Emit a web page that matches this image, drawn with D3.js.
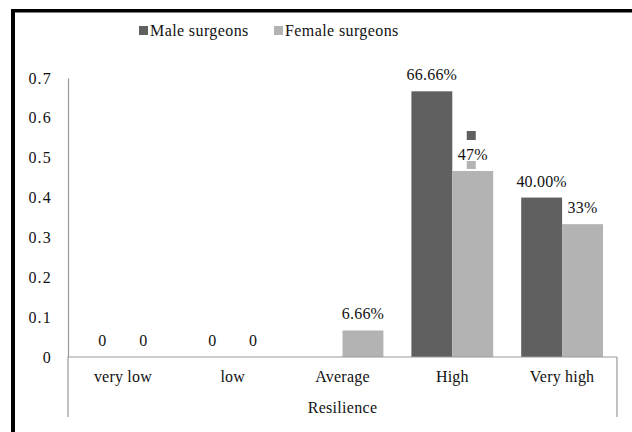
<!DOCTYPE html>
<html><head><meta charset="utf-8">
<script src="https://cdn.jsdelivr.net/npm/d3@7/dist/d3.min.js"></script>
<style>
html,body{margin:0;padding:0;background:#fff;}
</style></head>
<body><svg id="chart" width="632" height="432"></svg>
<script>
const categories = ["very low", "low", "Average", "High", "Very high"];
const seriesNames = ["Male surgeons", "Female surgeons"];
const maleValues = [0, 0, 0, 0.6666, 0.40];
const femaleValues = [0, 0, 0.0666, 0.4667, 0.3333];
const maleLabels = ["0", "0", "", "66.66%", "40.00%"];
const femaleLabels = ["0", "0", "6.66%", "47%", "33%"];
const yTicks = [0, 0.1, 0.2, 0.3, 0.4, 0.5, 0.6, 0.7];
const xTitle = "Resilience";

(function () {
const FONT = "'Liberation Serif', 'DejaVu Serif', serif";
const colors = ["#606060", "#b3b3b3"];
const svg = d3.select("#chart");

// frame (black edges left and top)
svg.append("rect").attr("x", 11).attr("y", 9).attr("width", 4).attr("height", 432).attr("fill", "#000");
svg.append("rect").attr("x", 11).attr("y", 9).attr("width", 632).attr("height", 3.5).attr("fill", "#000");

const pLeft = 68, pRight = 617, pTop = 78, pBottom = 357;
const x0 = d3.scaleBand().domain(categories).range([pLeft, pRight]).padding(0);
const x1 = d3.scaleBand().domain(seriesNames).range([14, x0.bandwidth() - 14]).padding(0);
const y = d3.scaleLinear().domain([0, 0.7]).range([pBottom, pTop]);

const series = [
  {name: seriesNames[0], values: maleValues, labels: maleLabels, color: colors[0]},
  {name: seriesNames[1], values: femaleValues, labels: femaleLabels, color: colors[1]}
];

function styleText(sel, ls) {
  sel.style("font-family", FONT).style("font-size", "16px")
    .style("letter-spacing", ls + "px").style("fill", "#111");
}

// y axis
const yAxis = d3.axisLeft(y).tickValues(yTicks).tickSize(0).tickPadding(16)
  .tickFormat(d => d === 0 ? "0" : d3.format(".1f")(d));
const gy = svg.append("g").attr("transform", `translate(${pLeft},0)`).call(yAxis);
gy.attr("font-family", null);
gy.select(".domain").attr("stroke", "#999").attr("stroke-width", 1.2);
styleText(gy.selectAll("text"), 1.2);

// bars
series.forEach(s => {
  svg.append("g").selectAll("rect").data(categories).join("rect")
    .attr("x", c => x0(c) + x1(s.name))
    .attr("width", x1.bandwidth())
    .attr("y", (c, i) => y(s.values[i]))
    .attr("height", (c, i) => pBottom - y(s.values[i]))
    .attr("fill", s.color);
});

// x axis
const xAxis = d3.axisBottom(x0).tickSize(0).tickPadding(14);
const gx = svg.append("g").attr("transform", `translate(0,${pBottom})`).call(xAxis);
gx.attr("font-family", null);
gx.select(".domain").remove();
styleText(gx.selectAll("text"), 0.2);
svg.append("line").attr("x1", pLeft).attr("x2", pRight).attr("y1", pBottom).attr("y2", pBottom)
  .attr("stroke", "#999").attr("stroke-width", 1.2);
[pLeft, pRight].forEach(xx => svg.append("line").attr("x1", xx).attr("x2", xx)
  .attr("y1", pBottom).attr("y2", 417).attr("stroke", "#999").attr("stroke-width", 1.2));

styleText(svg.append("text").attr("x", (pLeft + pRight) / 2).attr("y", 413).attr("text-anchor", "middle")
  .text(xTitle), 0.3);

// data labels
series.forEach(s => {
  styleText(svg.append("g").selectAll("text").data(categories).join("text")
    .attr("x", c => x0(c) + x1(s.name) + x1.bandwidth() / 2)
    .attr("y", (c, i) => y(s.values[i]) - 11)
    .attr("text-anchor", "middle")
    .text((c, i) => s.labels[i]), 0.2);
});

// legend keys beside the "47%" label (as in the original)
const hiX = x0("High") + x1(seriesNames[1]) + x1.bandwidth() / 2;
const hiY = y(femaleValues[3]);
svg.append("rect").attr("x", hiX - 6).attr("y", hiY - 40).attr("width", 9).attr("height", 9).attr("fill", colors[0]);
svg.append("rect").attr("x", hiX - 6).attr("y", hiY - 10).attr("width", 9).attr("height", 8).attr("fill", colors[1]);

// legend
const legendItems = [{name: seriesNames[0], color: colors[0], x: 139}, {name: seriesNames[1], color: colors[1], x: 274}];
const lg = svg.append("g");
legendItems.forEach(it => {
  lg.append("rect").attr("x", it.x).attr("y", 26).attr("width", 9).attr("height", 9).attr("fill", it.color);
  styleText(lg.append("text").attr("x", it.x + 11).attr("y", 36).text(it.name), 0.4);
});
})();
</script></body></html>
